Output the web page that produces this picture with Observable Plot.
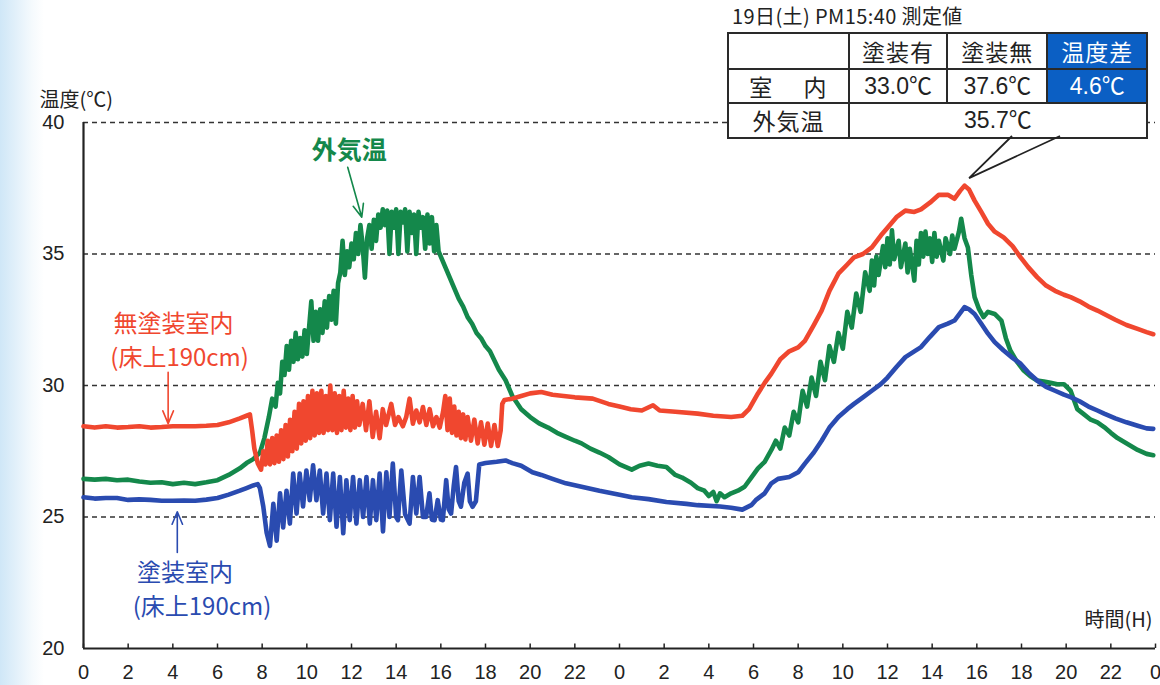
<!DOCTYPE html>
<html>
<head>
<meta charset="utf-8">
<script src="https://cdn.jsdelivr.net/npm/d3@7"></script>
<script src="https://cdn.jsdelivr.net/npm/@observablehq/plot@0.6"></script>
<style>
html, body { margin: 0; padding: 0; }
body {
  width: 1160px; height: 685px; overflow: hidden;
  background: linear-gradient(to right, #cfe7f7 0px, #e2f0fa 16px, #f5fafd 32px, #ffffff 44px);
}
#wrap { position: relative; width: 1160px; height: 685px; }
#wrap > svg.plot { position: absolute; left: 0; top: 0; }
#title {
  position: absolute; left: 732px; top: 1px; letter-spacing: 0.4px;
  font-family: "Noto Sans CJK JP", sans-serif; font-size: 20px; color: #222; white-space: nowrap;
}
#tbl {
  position: absolute; left: 727px; top: 32px; width: 421px; height: 105px;
  border-collapse: collapse; background: #fff;
  font-family: "Liberation Sans", "Noto Sans CJK JP", sans-serif; font-size: 23px; color: #222;
}
#tbl td { border: 2px solid #2a2a2a; text-align: center; padding: 0; line-height: 1; }
#tbl td.jp { font-family: "Noto Sans CJK JP", sans-serif; font-size: 23px; letter-spacing: 1px; }
#tbl td.hi { background: #0b5fc4; color: #fff; }
#tail { position: absolute; left: 0; top: 0; pointer-events: none; }
</style>
</head>
<body>
<div id="wrap"></div>
<script>
// ---------------- data ----------------
const GREEN = "#14884b", RED = "#f0472f", BLUE = "#2a4bb0";

const xTicks = [0,2,4,6,8,10,12,14,16,18,20,22,24,26,28,30,32,34,36,38,40,42,44,46,48];
const yTicks = [20,25,30,35,40];
const gridTemps = [25,30,35,40];

// 外気温 (hour, °C)
const outdoorTemp = [
[0,26.45],[0.5,26.42],[1,26.45],[1.5,26.4],[2,26.42],[2.5,26.35],[3,26.3],[3.5,26.32],[4,26.25],[4.5,26.3],
[5,26.25],[5.5,26.32],[6,26.4],[6.5,26.6],[7,26.85],[7.3,27.05],[7.6,27.2],[7.9,27.45],[8.1,28.0],[8.3,28.8],
[8.45,29.5],[8.6,29.2],[8.7,30.1],[8.8,29.7],[8.9,30.9],[9.0,30.4],[9.1,31.5],[9.2,30.6],[9.3,31.7],[9.4,30.9],
[9.5,32.0],[9.6,31.0],[9.7,31.8],[9.8,31.1],[9.9,32.1],[10.0,31.2],[10.1,32.2],[10.2,33.2],[10.3,31.7],[10.4,32.8],
[10.5,31.7],[10.6,32.9],[10.7,32.0],[10.8,33.2],[10.9,32.2],[11.0,33.4],[11.1,32.5],[11.2,33.6],[11.3,32.35],[11.4,33.9],
[11.5,34.3],[11.6,35.5],[11.7,34.2],[11.8,35.1],[11.9,34.5],[12.0,35.4],[12.1,34.8],[12.2,35.8],[12.3,35.0],[12.4,36.1],
[12.5,35.3],[12.6,34.1],[12.7,35.6],[12.8,36.1],[12.9,35.2],[13.0,36.3],[13.1,35.5],[13.2,36.5],[13.3,36.0],[13.4,36.7],
[13.5,36.1],[13.6,36.65],[13.7,35.0],[13.8,36.6],[13.9,36.0],[14.0,36.7],[14.1,35.0],[14.2,36.6],[14.3,36.2],[14.4,36.7],
[14.5,35.1],[14.6,36.6],[14.7,35.8],[14.8,36.5],[14.9,35.0],[15.0,36.6],[15.1,36.0],[15.2,36.4],[15.3,35.2],[15.4,36.5],
[15.5,35.4],[15.6,36.4],[15.7,35.1],[15.8,36.1],[15.9,35.1],[16.0,34.9],[16.2,34.5],[16.4,34.1],[16.6,33.7],[16.8,33.3],
[17.0,33.0],[17.2,32.6],[17.4,32.35],[17.6,32.0],[17.8,31.8],[18.0,31.5],[18.2,31.3],[18.4,30.95],[18.6,30.6],[18.9,30.2],
[19.2,29.6],[19.6,29.1],[20.0,28.8],[20.4,28.56],[20.8,28.4],[21.2,28.2],[21.6,28.05],[22.0,27.9],[22.3,27.8],[22.7,27.6],
[23.1,27.45],[23.5,27.28],[24.0,27.0],[24.55,26.8],[24.9,26.95],[25.3,27.03],[25.7,26.95],[26.1,26.9],[26.5,26.6],[26.8,26.5],
[27.2,26.3],[27.5,26.1],[27.8,26.0],[28.0,25.8],[28.2,25.95],[28.35,25.6],[28.5,25.9],[28.7,25.75],[29.0,25.9],[29.3,26.0],
[29.6,26.15],[29.9,26.5],[30.2,26.85],[30.5,27.1],[30.8,27.55],[31.0,27.9],[31.2,27.6],[31.4,28.4],[31.6,28.1],[31.8,29.0],
[32.0,28.6],[32.2,29.8],[32.4,29.2],[32.6,30.3],[32.8,29.6],[33.0,30.9],[33.2,30.2],[33.4,31.5],[33.6,30.9],[33.8,32.0],
[34.0,31.4],[34.2,32.8],[34.4,32.2],[34.6,33.5],[34.8,32.8],[35.0,34.3],[35.2,33.6],[35.3,34.75],[35.4,33.8],[35.5,34.9],
[35.6,34.2],[35.8,35.3],[35.9,34.5],[36.0,35.6],[36.1,34.6],[36.2,35.9],[36.3,34.8],[36.5,35.5],[36.6,34.5],[36.8,35.4],
[36.9,34.3],[37.0,35.2],[37.2,33.99],[37.3,35.5],[37.4,34.6],[37.5,35.8],[37.6,34.9],[37.7,35.85],[37.8,35.0],[37.9,35.6],
[38.0,34.7],[38.1,35.8],[38.2,34.9],[38.3,35.5],[38.5,34.75],[38.6,35.6],[38.8,35.0],[38.9,35.7],[39.0,35.2],[39.2,35.85],
[39.3,36.34],[39.45,35.6],[39.6,35.25],[39.75,34.2],[39.9,33.36],[40.1,32.9],[40.3,32.6],[40.5,32.8],[40.8,32.72],[41.1,32.47],
[41.3,31.8],[41.5,31.33],[41.8,30.9],[42.1,30.57],[42.4,30.35],[42.7,30.19],[43.0,30.15],[43.3,30.1],[43.6,30.05],[43.9,30.05],
[44.2,29.8],[44.5,29.1],[44.8,28.9],[45.1,28.7],[45.4,28.6],[45.7,28.42],[46.0,28.2],[46.3,28.0],[46.6,27.85],[46.9,27.7],
[47.2,27.55],[47.6,27.4],[47.9,27.35]
];

// 無塗装室内 (床上190cm)
const uncoatedRoom = [
[0,28.45],[0.5,28.4],[1,28.45],[1.5,28.4],[2,28.42],[2.5,28.45],[3,28.4],[3.5,28.42],[4,28.45],[4.5,28.45],
[5,28.45],[5.5,28.47],[6,28.5],[6.5,28.6],[7.0,28.75],[7.3,28.85],[7.45,28.9],[7.55,28.3],[7.65,27.6],[7.8,27.05],
[7.95,26.8],[8.05,27.5],[8.15,27.0],[8.25,27.9],[8.35,27.0],[8.45,28.0],[8.55,27.05],[8.65,28.1],[8.75,27.1],[8.85,28.3],
[8.95,27.2],[9.05,28.5],[9.15,27.3],[9.25,28.7],[9.35,27.5],[9.45,29.0],[9.55,27.6],[9.65,29.3],[9.75,27.8],[9.85,29.4],
[9.95,27.9],[10.05,29.6],[10.15,28.0],[10.25,29.8],[10.35,28.1],[10.45,29.7],[10.55,28.2],[10.65,29.8],[10.75,28.2],[10.85,29.6],
[10.95,28.3],[11.05,30.0],[11.15,28.3],[11.25,29.7],[11.35,28.2],[11.45,29.6],[11.55,28.3],[11.65,29.8],[11.75,28.4],[11.85,29.5],
[11.95,28.3],[12.05,29.6],[12.15,28.4],[12.25,29.4],[12.35,28.5],[12.5,29.3],[12.65,28.3],[12.8,29.4],[12.95,28.04],[13.1,29.0],
[13.26,28.0],[13.4,29.1],[13.55,28.5],[13.78,29.3],[13.95,28.5],[14.1,28.8],[14.3,28.45],[14.45,28.8],[14.6,29.5],[14.75,28.55],
[14.9,29.05],[15.05,28.6],[15.2,29.18],[15.35,28.5],[15.5,29.1],[15.65,28.45],[15.8,28.8],[15.95,28.4],[16.1,29.0],[16.2,29.6],
[16.3,28.3],[16.4,29.5],[16.5,28.2],[16.6,29.2],[16.7,28.1],[16.8,29.0],[16.9,28.0],[17.0,28.9],[17.1,27.95],[17.2,28.8],
[17.35,27.9],[17.5,28.7],[17.65,27.8],[17.8,28.6],[17.95,27.75],[18.1,28.55],[18.25,27.7],[18.4,28.5],[18.55,27.7],[18.68,28.3],
[18.75,29.3],[18.85,29.45],[19.2,29.5],[19.6,29.6],[20.0,29.7],[20.5,29.75],[21.0,29.65],[21.5,29.6],[22.0,29.55],[22.8,29.5],
[23.5,29.3],[24.0,29.2],[24.5,29.1],[25.0,29.05],[25.5,29.25],[25.8,29.05],[26.5,29.0],[27.5,28.93],[28.2,28.85],[29.0,28.8],
[29.5,28.85],[29.8,29.1],[30.2,29.7],[30.5,30.1],[30.8,30.45],[31.2,31.0],[31.6,31.3],[32.0,31.45],[32.3,31.7],[32.7,32.3],
[33.05,32.85],[33.4,33.6],[33.8,34.25],[34.2,34.6],[34.5,34.87],[34.9,35.0],[35.3,35.25],[35.7,35.7],[36.0,36.0],[36.4,36.4],
[36.8,36.65],[37.2,36.6],[37.5,36.7],[37.9,36.95],[38.3,37.25],[38.7,37.25],[39.0,37.1],[39.25,37.4],[39.45,37.6],[39.65,37.45],
[39.9,37.03],[40.2,36.6],[40.5,36.15],[40.8,35.85],[41.2,35.63],[41.6,35.3],[41.96,34.87],[42.3,34.5],[42.7,34.12],[43.1,33.8],
[43.5,33.6],[43.9,33.45],[44.2,33.36],[44.6,33.2],[45.0,33.0],[45.4,32.85],[45.7,32.72],[46.2,32.5],[46.7,32.3],[47.2,32.15],
[47.6,32.03],[47.9,31.95]
];

// 塗装室内 (床上190cm)
const coatedRoom = [
[0,25.75],[0.5,25.7],[1,25.72],[1.5,25.72],[2,25.65],[2.5,25.67],[3,25.65],[3.5,25.62],[4,25.62],[4.5,25.63],
[5,25.62],[5.5,25.66],[6,25.72],[6.5,25.85],[7,26.0],[7.3,26.1],[7.6,26.2],[7.8,26.25],[7.9,26.1],[8.05,25.4],
[8.2,24.4],[8.35,23.9],[8.5,25.5],[8.65,24.1],[8.8,25.9],[8.94,24.6],[9.09,26.0],[9.24,24.75],[9.39,26.65],[9.54,25.13],
[9.68,26.65],[9.83,25.4],[9.98,26.77],[10.13,25.64],[10.28,26.97],[10.43,25.64],[10.58,26.77],[10.73,25.13],[10.88,26.65],[11.03,24.88],
[11.18,26.65],[11.33,24.63],[11.48,26.52],[11.63,24.38],[11.77,26.4],[11.92,24.88],[12.07,26.52],[12.22,24.75],[12.37,26.4],[12.52,25.0],
[12.67,26.52],[12.82,24.75],[12.96,26.4],[13.11,24.88],[13.26,26.65],[13.41,24.45],[13.56,26.7],[13.7,25.0],[13.85,27.03],[14.0,25.0],
[14.08,24.88],[14.23,26.77],[14.4,25.1],[14.6,24.75],[14.75,26.52],[14.9,25.13],[15.05,26.52],[15.2,25.0],[15.34,25.0],[15.49,25.9],
[15.6,24.9],[15.72,24.88],[15.86,25.64],[16.0,24.9],[16.09,24.88],[16.24,26.4],[16.35,25.3],[16.46,25.13],[16.58,26.2],[16.68,26.9],
[16.8,25.6],[16.9,25.39],[17.05,26.3],[17.2,26.65],[17.3,25.6],[17.42,25.39],[17.57,25.6],[17.72,27.0],[18.0,27.05],[18.5,27.1],
[18.9,27.15],[19.2,27.05],[19.6,26.95],[20.1,26.7],[20.5,26.6],[21.0,26.45],[21.6,26.28],[22.3,26.15],[23.1,26.0],[24.0,25.85],
[24.55,25.75],[25.3,25.68],[26.1,25.57],[27.0,25.5],[27.5,25.45],[28.5,25.4],[29.0,25.35],[29.5,25.28],[29.9,25.45],[30.1,25.64],
[30.5,25.9],[30.8,26.28],[31.1,26.45],[31.6,26.52],[32.0,26.7],[32.3,27.03],[32.7,27.45],[33.05,27.9],[33.4,28.4],[33.8,28.8],
[34.2,29.1],[34.5,29.3],[34.9,29.55],[35.3,29.8],[35.7,30.05],[36.0,30.3],[36.4,30.7],[36.8,31.08],[37.2,31.3],[37.5,31.46],
[37.9,31.85],[38.3,32.22],[38.7,32.35],[39.0,32.47],[39.25,32.75],[39.45,32.98],[39.65,32.9],[39.9,32.72],[40.2,32.35],[40.5,31.97],
[40.8,31.65],[41.2,31.33],[41.6,31.05],[41.96,30.83],[42.3,30.5],[42.7,30.19],[43.1,29.95],[43.5,29.8],[43.9,29.65],[44.2,29.56],
[44.6,29.4],[45.0,29.2],[45.4,29.05],[45.7,28.93],[46.2,28.75],[46.7,28.6],[47.2,28.47],[47.6,28.37],[47.9,28.35]
];

// annotation labels (anchored in hours / °C)
const seriesLabels = [
  {h: 11.9, t: 38.93, text: "外気温", color: GREEN, anchor: "middle", weight: "bold", size: 25},
  {h: 1.34, t: 32.32, text: "無塗装室内", color: RED, anchor: "start", weight: "normal", size: 24},
  {h: 1.2, t: 31.05, text: "(床上190cm)", color: RED, anchor: "start", weight: "normal", size: 24},
  {h: 2.4, t: 22.85, text: "塗装室内", color: BLUE, anchor: "start", weight: "normal", size: 24},
  {h: 2.2, t: 21.56, text: "(床上190cm)", color: BLUE, anchor: "start", weight: "normal", size: 24}
];
const labelArrows = [
  {h1: 11.83, t1: 38.3, h2: 12.46, t2: 36.4, color: GREEN},
  {h1: 3.79, t1: 30.5, h2: 3.79, t2: 28.55, color: RED},
  {h1: 4.2, t1: 23.65, h2: 4.2, t2: 25.2, color: BLUE}
];

// measurement table
const tableTitle = "19日(土) PM15:40 測定値";
const tableHeader = ["", "塗装有", "塗装無", "温度差"];
const indoorRow = ["室　 内", "33.0℃", "37.6℃", "4.6℃"];
const outdoorRow = ["外気温", "35.7℃"];

// ---------------- chart ----------------
const toObj = arr => arr.map(([h, t]) => ({h, t}));
const JP = "'Noto Sans CJK JP', sans-serif";

const chart = Plot.plot({
  width: 1160, height: 685,
  marginLeft: 83, marginRight: 5, marginTop: 122, marginBottom: 37,
  style: {background: "transparent", fontFamily: "'Liberation Sans', Arial, sans-serif", fontSize: "20px", color: "#222"},
  x: {domain: [0, 48]},
  y: {domain: [20, 40]},
  marks: [
    Plot.ruleY(gridTemps, {stroke: "#333", strokeWidth: 1.6, strokeDasharray: "5,4"}),
    Plot.axisX(xTicks, {tickSize: 0, tickPadding: 16, tickFormat: d => String(d % 24), fontSize: 20, label: null}),
    Plot.axisY(yTicks, {tickSize: 0, tickPadding: 19, fontSize: 20, label: null}),
    Plot.ruleX(xTicks, {x: d => d, y1: 20, y2: 20.17, stroke: "#222", strokeWidth: 1.5}),
    Plot.ruleX([0], {stroke: "#222", strokeWidth: 2.2}),
    Plot.ruleY([20], {stroke: "#222", strokeWidth: 2.2}),
    Plot.line(toObj(outdoorTemp), {x: "h", y: "t", stroke: GREEN, strokeWidth: 4.6, strokeLinejoin: "round"}),
    Plot.line(toObj(coatedRoom), {x: "h", y: "t", stroke: BLUE, strokeWidth: 4.6, strokeLinejoin: "round"}),
    Plot.line(toObj(uncoatedRoom), {x: "h", y: "t", stroke: RED, strokeWidth: 4.6, strokeLinejoin: "round"}),
    Plot.arrow(labelArrows, {x1: "h1", y1: "t1", x2: "h2", y2: "t2", stroke: d => d.color, strokeWidth: 1.6, headLength: 13, headAngle: 45}),
    ...seriesLabels.map(d => Plot.text([d], {x: "h", y: "t", text: "text", fill: d.color, textAnchor: d.anchor,
      fontFamily: JP, fontSize: d.size, fontWeight: d.weight})),
    Plot.text(["温度(℃)"], {frameAnchor: "top-left", dx: -44, dy: -30, textAnchor: "start", fontFamily: JP, fontSize: 20, fill: "#222"}),
    Plot.text(["時間(H)"], {frameAnchor: "bottom-right", dx: -3, dy: -22, textAnchor: "end", fontFamily: JP, fontSize: 20, fill: "#222"})
  ]
});

const wrap = document.getElementById("wrap");
wrap.appendChild(chart);

// table overlay
const title = document.createElement("div");
title.id = "title";
title.textContent = tableTitle;
wrap.appendChild(title);

const tbl = document.createElement("table");
tbl.id = "tbl";
const widths = [123, 98, 100, 100];
const heights = [36, 34, 35];
function addRow(cells, rowIdx, spans) {
  const tr = document.createElement("tr");
  tr.style.height = heights[rowIdx] + "px";
  cells.forEach((c, i) => {
    const td = document.createElement("td");
    td.textContent = c;
    if (rowIdx === 0 || i === 0) td.className = "jp";
    if (rowIdx < 2 && i === 3) td.className += " hi";
    if (spans && spans[i]) td.colSpan = spans[i];
    if (rowIdx === 0) td.style.width = widths[i] + "px";
    tr.appendChild(td);
  });
  tbl.appendChild(tr);
}
addRow(tableHeader, 0);
addRow(indoorRow, 1);
addRow(outdoorRow, 2, [1, 3]);
wrap.appendChild(tbl);

// callout tail pointing at the peak of the uncoated room curve
const sx = chart.scale("x"), sy = chart.scale("y");
const peak = uncoatedRoom.reduce((a, b) => (b[1] > a[1] ? b : a));
const tipX = sx.apply(peak[0]) + 5, tipY = sy.apply(peak[1]) - 7;
const ns = "http://www.w3.org/2000/svg";
const tail = document.createElementNS(ns, "svg");
tail.setAttribute("id", "tail");
tail.setAttribute("width", 1160);
tail.setAttribute("height", 685);
const path = document.createElementNS(ns, "path");
path.setAttribute("d", `M1012,136 L${tipX},${tipY} L1060,136`);
path.setAttribute("fill", "none");
path.setAttribute("stroke", "#222");
path.setAttribute("stroke-width", 1.8);
tail.appendChild(path);
wrap.appendChild(tail);
</script>
</body>
</html>
